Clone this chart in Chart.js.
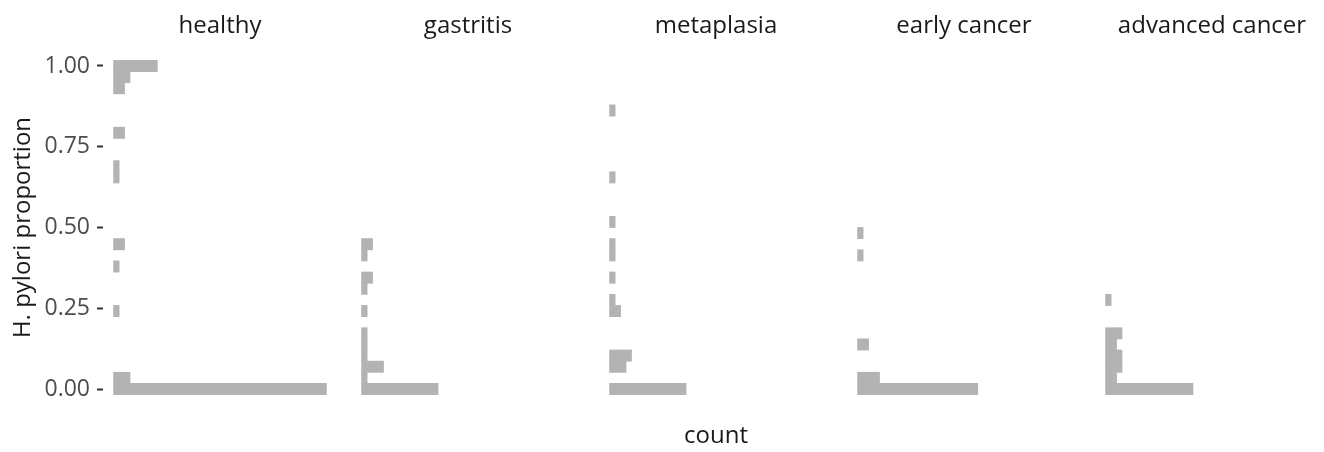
<!DOCTYPE html>
<html>
<head>
<meta charset="utf-8">
<script src="https://cdn.jsdelivr.net/npm/chart.js@4.4.1/dist/chart.umd.min.js"></script>
<style>
  html, body { margin: 0; padding: 0; background: #ffffff; }
  #wrap { position: relative; width: 1324px; height: 452px; overflow: hidden; background: #ffffff; }
  #wrap canvas { position: absolute; top: 0; }
</style>
</head>
<body>
<div id="wrap"></div>
<script>
// Facet names, one panel each
const facets = ['healthy', 'gastritis', 'metaplasia', 'early cancer', 'advanced cancer'];

// Histogram bin centres (30 bins over 0..1)
const binCentres = [0.00000, 0.03448, 0.06897, 0.10345, 0.13793, 0.17241, 0.20690, 0.24138, 0.27586, 0.31034,
                    0.34483, 0.37931, 0.41379, 0.44828, 0.48276, 0.51724, 0.55172, 0.58621, 0.62069, 0.65517,
                    0.68966, 0.72414, 0.75862, 0.79310, 0.82759, 0.86207, 0.89655, 0.93103, 0.96552, 1.00000];

// Sample counts per bin, one array per facet
const healthyCounts    = [39, 3, 0, 0, 0, 0, 0, 1, 0, 0, 0, 1, 0, 2, 0, 0, 0, 0, 0, 1, 1, 0, 0, 2, 0, 0, 0, 2, 3, 8];
const gastritisCounts  = [14, 1, 4, 1, 1, 1, 0, 1, 0, 1, 2, 0, 1, 2, 0, 0, 0, 0, 0, 0, 0, 0, 0, 0, 0, 0, 0, 0, 0, 0];
const metaplasiaCounts = [14, 0, 3, 4, 0, 0, 0, 2, 1, 0, 1, 0, 1, 1, 0, 1, 0, 0, 0, 1, 0, 0, 0, 0, 0, 1, 0, 0, 0, 0];
const earlyCounts      = [22, 4, 0, 0, 2, 0, 0, 0, 0, 0, 0, 0, 1, 0, 1, 0, 0, 0, 0, 0, 0, 0, 0, 0, 0, 0, 0, 0, 0, 0];
const advancedCounts   = [16, 2, 3, 3, 2, 3, 0, 0, 1, 0, 0, 0, 0, 0, 0, 0, 0, 0, 0, 0, 0, 0, 0, 0, 0, 0, 0, 0, 0, 0];
const facetCounts = [healthyCounts, gastritisCounts, metaplasiaCounts, earlyCounts, advancedCounts];

// Y axis ticks
const yTickValues = [0, 0.25, 0.5, 0.75, 1];
const yTickLabels = ['0.00', '0.25', '0.50', '0.75', '1.00'];

// Layout
const H = 452;
const AXIS_W = 103;      // width of the y axis strip on the first panel
const PANEL_W = 234;     // plotting width of each facet
const STEP = 248;        // facet pitch (panel + spacing)
const TOP_H = 44;        // strip label band above panels
const BOTTOM_H = 41;     // band below panels (x title)
const Y_MIN = -0.068, Y_MAX = 1.068;
const X_MIN = -1.95, X_MAX = 40.95;

const FONT = "'Open Sans', 'Noto Sans', sans-serif";
const BAR_FILL = '#B3B3B3';

const wrap = document.getElementById('wrap');

facets.forEach((name, i) => {
  const first = i === 0;
  const withCount = i === 2;
  const canvas = document.createElement('canvas');
  const cw = first ? AXIS_W + PANEL_W : PANEL_W;
  const left = first ? 0 : AXIS_W + i * STEP;
  canvas.width = cw;
  canvas.height = H;
  canvas.style.width = cw + 'px';
  canvas.style.height = H + 'px';
  canvas.style.left = left + 'px';
  wrap.appendChild(canvas);

  const counts = facetCounts[i];
  const scales = {
    y: {
      type: 'linear',
      position: 'left',
      display: first,
      offset: false,
      min: Y_MIN,
      max: Y_MAX,
      afterFit: s => { if (first) s.width = AXIS_W; },
      afterBuildTicks: s => { s.ticks = yTickValues.map(v => ({ value: v })); },
      ticks: {
        callback: (v, idx) => yTickLabels[idx],
        color: '#4D4D4D',
        font: { family: FONT, size: 23 },
        padding: 7
      },
      grid: {
        display: true,
        offset: false,
        drawOnChartArea: false,
        drawTicks: true,
        tickLength: 6,
        tickWidth: 2,
        tickColor: '#333333'
      },
      border: { display: false },
      title: {
        display: true,
        text: 'H. pylori proportion',
        color: '#1A1A1A',
        font: { family: FONT, size: 24 },
        padding: { top: 8.5, bottom: 0 }
      }
    },
    x: {
      type: 'linear',
      position: 'top',
      offset: false,
      min: X_MIN,
      max: X_MAX,
      afterFit: s => { s.height = TOP_H; },
      ticks: { display: false },
      grid: { display: false },
      border: { display: false },
      title: {
        display: true,
        text: name,
        color: '#1A1A1A',
        font: { family: FONT, size: 24 },
        padding: { top: 12, bottom: 0 }
      }
    }
  };
  if (withCount) {
    scales.x2 = {
      type: 'linear',
      position: 'bottom',
      offset: false,
      min: X_MIN,
      max: X_MAX,
      afterFit: s => { s.height = BOTTOM_H; },
      ticks: { display: false },
      grid: { display: false },
      border: { display: false },
      title: {
        display: true,
        text: 'count',
        color: '#1A1A1A',
        font: { family: FONT, size: 24 },
        padding: { top: 0, bottom: 1 }
      }
    };
  }

  new Chart(canvas, {
    type: 'bar',
    data: {
      datasets: [{
        // empty bins are left undrawn
        data: binCentres.map((c, k) => ({ x: counts[k] > 0 ? counts[k] : null, y: c })),
        backgroundColor: BAR_FILL,
        borderWidth: 0,
        inflateAmount: 0.4,
        barPercentage: 1,
        categoryPercentage: 1
      }]
    },
    options: {
      indexAxis: 'y',
      responsive: false,
      animation: false,
      layout: { padding: { left: 0, right: 0, top: 0, bottom: withCount ? 0 : BOTTOM_H } },
      plugins: { legend: { display: false }, tooltip: { enabled: false } },
      scales
    }
  });
});
</script>
</body>
</html>
